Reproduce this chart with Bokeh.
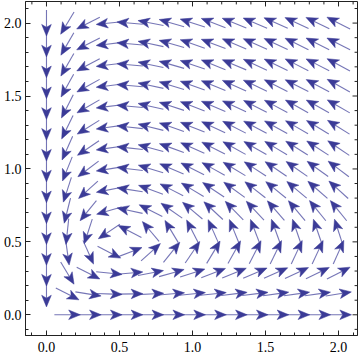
import math
from bokeh.plotting import figure
from bokeh.models import Range1d, FixedTicker
from bokeh.embed import file_html
from bokeh.resources import INLINE

# grid of sample points (15 x 15)
x_grid = [0.0, 0.143, 0.286, 0.429, 0.571, 0.714, 0.857, 1.0, 1.143, 1.286, 1.429, 1.571, 1.714, 1.857, 2.0]
y_grid = [0.0, 0.143, 0.286, 0.429, 0.571, 0.714, 0.857, 1.0, 1.143, 1.286, 1.429, 1.571, 1.714, 1.857, 2.0]

# arrow directions in degrees (counter-clockwise from +x), rows from bottom (y=0) to top (y=2)
angles = [
    [None, 0, 0, 0, 0, 0, 0, 0, 0, 0, 0, 0, 0, 0, 0],
    [-90, -27, -9, -2, 1, 3, 5, 6, 6, 7, 7, 8, 8, 8, 9],
    [-90, -59, -27, -6, 5, 11, 16, 18, 21, 22, 23, 24, 25, 26, 27],
    [-90, -82, -66, -27, 21, 42, 51, 56, 59, 61, 63, 64, 65, 65, 66],
    [-90, -96, -108, -146, 153, 130, 121, 117, 114, 112, 111, 110, 109, 109, 108],
    [-90, -104, -129, -164, 168, 153, 145, 140, 137, 134, 133, 131, 130, 129, 129],
    [-90, -108, -138, -169, 171, 160, 153, 149, 146, 144, 142, 141, 140, 139, 138],
    [-90, -112, -143, -171, 173, 163, 157, 153, 151, 149, 147, 146, 145, 144, 143],
    [-90, -114, -146, -172, 174, 165, 160, 156, 153, 151, 150, 149, 148, 147, 146],
    [-90, -116, -148, -172, 174, 166, 161, 158, 155, 153, 152, 151, 150, 149, 148],
    [-90, -117, -150, -173, 175, 167, 162, 159, 157, 155, 153, 152, 151, 151, 150],
    [-90, -119, -151, -173, 175, 168, 163, 160, 158, 156, 155, 153, 153, 152, 151],
    [-90, -120, -152, -173, 175, 168, 164, 161, 158, 157, 155, 154, 153, 153, 152],
    [-90, -120, -153, -173, 175, 168, 164, 161, 159, 157, 156, 155, 154, 153, 153],
    [-90, -121, -153, -174, 175, 169, 164, 162, 159, 158, 157, 156, 155, 154, 153],
]

major_ticks = [0.0, 0.5, 1.0, 1.5, 2.0]
tick_labels = ["0.0", "0.5", "1.0", "1.5", "2.0"]
minor_ticks = [-0.1, 0.0, 0.1, 0.2, 0.3, 0.4, 0.5, 0.6, 0.7, 0.8, 0.9, 1.0,
               1.1, 1.2, 1.3, 1.4, 1.5, 1.6, 1.7, 1.8, 1.9, 2.0, 2.1]

ARROW_COLOR = "#3b3b97"
FRAME_COLOR = "#222222"
L = 0.178       # arrow length (data units)
HL = 0.08       # head length
HW = 0.033      # head half width
NOTCH = 0.02    # notch depth
MAJ_T = 0.034   # tick lengths for top/right frame ticks (data units)
MIN_T = 0.02

X0, X1 = -0.1437, 2.13
Y0, Y1 = -0.142, 2.148

p = figure(frame_width=332, frame_height=334,
           x_range=Range1d(X0, X1), y_range=Range1d(Y0, Y1),
           output_backend="svg", toolbar_location=None,
           min_border_left=24, min_border_right=4, min_border_top=1, min_border_bottom=22)
p.grid.visible = False
p.background_fill_color = "white"
p.border_fill_color = "white"
p.outline_line_color = FRAME_COLOR
p.outline_line_width = 1

head_xs, head_ys = [], []
sx0, sy0, sx1, sy1 = [], [], [], []
for j, row in enumerate(angles):
    for i, a in enumerate(row):
        if a is None:
            continue
        cx, cy = x_grid[i], y_grid[j]
        dx, dy = math.cos(math.radians(a)), math.sin(math.radians(a))
        nx, ny = -dy, dx
        tx, ty = cx - dx * L / 2, cy - dy * L / 2
        px, py = cx + dx * L / 2, cy + dy * L / 2
        bx, by = px - dx * HL, py - dy * HL
        kx, ky = px - dx * (HL - NOTCH), py - dy * (HL - NOTCH)
        head_xs.append([px, bx + nx * HW, kx, bx - nx * HW])
        head_ys.append([py, by + ny * HW, ky, by - ny * HW])
        sx0.append(tx); sy0.append(ty); sx1.append(kx); sy1.append(ky)

p.segment(sx0, sy0, sx1, sy1, line_color=ARROW_COLOR, line_alpha=0.7, line_width=1.1)
p.patches(head_xs, head_ys, fill_color=ARROW_COLOR, line_color=ARROW_COLOR, line_width=0.5)

ticker = FixedTicker(ticks=major_ticks, minor_ticks=minor_ticks)
overrides = {t: s for t, s in zip(major_ticks, tick_labels)}

for ax in (p.xaxis[0], p.yaxis[0]):
    ax.ticker = ticker
    ax.major_label_overrides = overrides
    ax.major_label_text_font = "Liberation Serif"
    ax.major_label_text_font_size = "14px"
    ax.major_label_text_color = "black"
    ax.axis_line_color = FRAME_COLOR
    ax.major_tick_line_color = FRAME_COLOR
    ax.minor_tick_line_color = FRAME_COLOR
    ax.major_tick_in = 5
    ax.major_tick_out = 0
    ax.minor_tick_in = 3
    ax.minor_tick_out = 0
p.xaxis[0].major_label_standoff = 6
p.yaxis[0].major_label_standoff = 4

# frame ticks on the top and right edges (pointing inward)
minor_only = [t for t in minor_ticks if t not in major_ticks]
tx0, ty0, tx1, ty1 = [], [], [], []
for t in major_ticks:
    tx0 += [t, X1]; ty0 += [Y1, t]; tx1 += [t, X1 - MAJ_T]; ty1 += [Y1 - MAJ_T, t]
for t in minor_only:
    tx0 += [t, X1]; ty0 += [Y1, t]; tx1 += [t, X1 - MIN_T]; ty1 += [Y1 - MIN_T, t]
p.segment(tx0, ty0, tx1, ty1, line_color=FRAME_COLOR, line_width=1)

open("out.html", "w").write(file_html(p, INLINE))
